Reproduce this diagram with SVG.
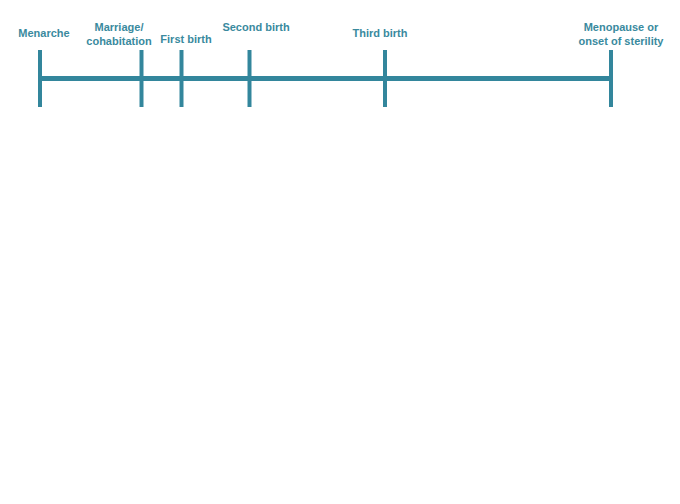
<svg xmlns="http://www.w3.org/2000/svg" width="680" height="504" viewBox="0 0 680 504">
<style>
.t{font-family:"Liberation Sans",Arial,sans-serif;font-size:11px;font-weight:bold;fill:#3a8a9e;text-anchor:middle}
.l{stroke:#33869c;stroke-width:4;fill:none}
</style>
<rect width="680" height="504" fill="#fff"/>
<g id="connectors">
<line class="l" x1="40" y1="78.5" x2="611" y2="78.5" style="stroke-width:5"/>
</g>
<g id="menarche"><line class="l" x1="40" y1="50" x2="40" y2="107"/><text class="t" x="44" y="37">Menarche</text></g>
<g id="marriage"><line class="l" x1="141.5" y1="50" x2="141.5" y2="107"/><text class="t" x="119" y="31">Marriage/</text><text class="t" x="119" y="45">cohabitation</text></g>
<g id="first"><line class="l" x1="181.5" y1="50" x2="181.5" y2="107"/><text class="t" x="186" y="43">First birth</text></g>
<g id="second"><line class="l" x1="249.5" y1="50" x2="249.5" y2="107"/><text class="t" x="256" y="31">Second birth</text></g>
<g id="third"><line class="l" x1="385" y1="50" x2="385" y2="107"/><text class="t" x="380" y="37">Third birth</text></g>
<g id="menopause"><line class="l" x1="611" y1="50" x2="611" y2="107"/><text class="t" x="621" y="31">Menopause or</text><text class="t" x="621" y="45">onset of sterility</text></g>
</svg>
